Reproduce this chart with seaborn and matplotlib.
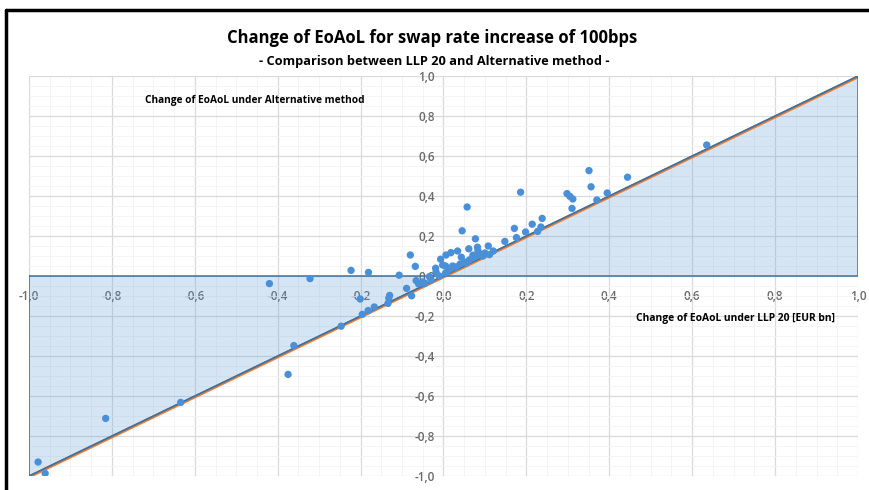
import numpy as np
import pandas as pd
import matplotlib
matplotlib.use("Agg")
import matplotlib.pyplot as plt
import matplotlib.transforms as mtransforms
from matplotlib.lines import Line2D
from matplotlib.ticker import MultipleLocator, FuncFormatter
import seaborn as sns

# ---- data ----
llp20 = [-0.978, -0.961, -0.815, -0.634, -0.420, -0.375, -0.361, -0.322, -0.247, -0.223,
         -0.201, -0.196, -0.182, -0.181, -0.167, -0.134, -0.130, -0.132, -0.107, -0.089,
         -0.080, -0.077, -0.068, -0.066, -0.060, -0.050, -0.045, -0.034, -0.030, -0.019,
         -0.018, -0.010, -0.007, -0.002, 0.005, 0.006, 0.005, 0.012, 0.018, 0.020,
         0.022, 0.030, 0.034, 0.040, 0.043, 0.045, 0.050, 0.055, 0.057, 0.061,
         0.062, 0.071, 0.070, 0.077, 0.080, 0.082, 0.083, 0.088, 0.095, 0.100,
         0.108, 0.111, 0.120, 0.148, 0.171, 0.176, 0.186, 0.198, 0.214, 0.227,
         0.235, 0.238, 0.298, 0.305, 0.312, 0.310, 0.351, 0.356, 0.370, 0.395,
         0.444, 0.635]
alternative = [-0.930, -0.987, -0.712, -0.632, -0.038, -0.492, -0.348, -0.013, -0.251, 0.028,
               -0.115, -0.192, -0.173, 0.018, -0.155, -0.137, -0.097, -0.111, 0.004, -0.062,
               0.105, -0.099, 0.048, -0.023, -0.040, -0.030, -0.037, -0.003, -0.020, 0.039,
               0.020, 0.000, 0.084, 0.055, 0.050, 0.105, 0.015, 0.030, 0.117, 0.040,
               0.050, 0.045, 0.125, 0.060, 0.094, 0.226, 0.070, 0.065, 0.345, 0.136,
               0.080, 0.104, 0.090, 0.186, 0.100, 0.144, 0.127, 0.110, 0.100, 0.115,
               0.150, 0.107, 0.125, 0.173, 0.238, 0.192, 0.419, 0.220, 0.259, 0.223,
               0.245, 0.288, 0.412, 0.398, 0.385, 0.338, 0.527, 0.446, 0.380, 0.415,
               0.494, 0.655]
diag = [-1.0, 1.0]
ticks = [-1.0, -0.8, -0.6, -0.4, -0.2, 0.0, 0.2, 0.4, 0.6, 0.8, 1.0]

title = "Change of EoAoL for swap rate increase of 100bps"
subtitle = "- Comparison between LLP 20 and Alternative method -"
ylabel = "Change of EoAoL under Alternative method"
xlabel = "Change of EoAoL under LLP 20 [EUR bn]"

df = pd.DataFrame({"llp20": llp20, "alt": alternative})
dd = pd.DataFrame({"x": diag, "y": diag})

sns.set_theme(style="white")
plt.rcParams["font.family"] = ["Open Sans", "DejaVu Sans"]

fig = plt.figure(figsize=(8.7, 4.9), dpi=100)
ax = fig.add_axes([29 / 870, 1 - 476 / 490, (858 - 29) / 870, (476 - 76) / 490])

ax.set_xlim(-1, 1)
ax.set_ylim(-1, 1)

# grid
ax.xaxis.set_major_locator(MultipleLocator(0.2))
ax.yaxis.set_major_locator(MultipleLocator(0.2))
ax.xaxis.set_minor_locator(MultipleLocator(0.05))
ax.yaxis.set_minor_locator(MultipleLocator(0.05))
ax.grid(True, which="major", color="#d9d9d9", lw=0.9, zorder=0)
ax.grid(True, which="minor", color="#f3f3f3", lw=0.6, zorder=0)
ax.set_axisbelow(True)

# area between diagonal and zero
ax.fill_between(diag, diag, 0, facecolor="#5B9BD5", alpha=0.25, edgecolor="none", zorder=1)
ax.plot([-1, -1, 1, 1, -1], [0, -1, 1, 0, 0], color="#41719C", lw=1.1, zorder=3)

# orange diagonal slightly below blue edge
off = mtransforms.offset_copy(ax.transData, fig=fig, x=0, y=-1.2, units="dots")
sns.lineplot(data=dd, x="x", y="y", color="#ED7D31", lw=1.8, ax=ax, zorder=2, transform=off)
ax.plot([-1, 1], [-1, 1], color="#41719C", lw=1.0, zorder=3)

# scatter
sns.scatterplot(data=df, x="llp20", y="alt", color="#4A90D9", s=28, edgecolor="none",
                ax=ax, zorder=4, legend=False)

ax.set_xlabel("")
ax.set_ylabel("")

for s in ax.spines.values():
    s.set_visible(False)
ax.spines["bottom"].set_position(("data", 0))
ax.spines["left"].set_position(("data", 0))

ax.set_xticks(ticks)
ax.set_yticks(ticks)
fmt = FuncFormatter(lambda v, p: f"{v:.1f}".replace(".", ",").replace("-0,0", "0,0"))
ax.xaxis.set_major_formatter(fmt)
ax.yaxis.set_major_formatter(fmt)
ax.tick_params(axis="both", which="both", length=0, labelsize=8.5, labelcolor="#6a6a6a")
ax.tick_params(axis="x", pad=10)
ax.tick_params(axis="y", pad=6)
for lab in ax.get_xticklabels() + ax.get_yticklabels():
    lab.set_fontweight("semibold")
    lab.set_zorder(5)

# texts
fig.text(432 / 870, 1 - 38 / 490, title, ha="center", va="center", fontsize=12,
         fontweight="bold", color="#000000")
fig.text(434 / 870, 1 - 62 / 490, subtitle, ha="center", va="center", fontsize=9.2,
         fontweight="bold", color="#000000")
fig.text(145 / 870, 1 - 100 / 490, ylabel, ha="left", va="center", fontsize=7.3,
         fontweight="bold", color="#000000")
fig.text(636 / 870, 1 - 318 / 490, xlabel, ha="left", va="center", fontsize=7.4,
         fontweight="bold", color="#000000")

# outer frame
fig.add_artist(Line2D([6 / 870, 1.0], [1 - 10 / 490, 1 - 10 / 490], transform=fig.transFigure,
                      color="black", lw=2.5))
fig.add_artist(Line2D([6 / 870, 6 / 870], [0, 1 - 10 / 490], transform=fig.transFigure,
                      color="black", lw=2.5))

fig.savefig("out.png", dpi=100)
